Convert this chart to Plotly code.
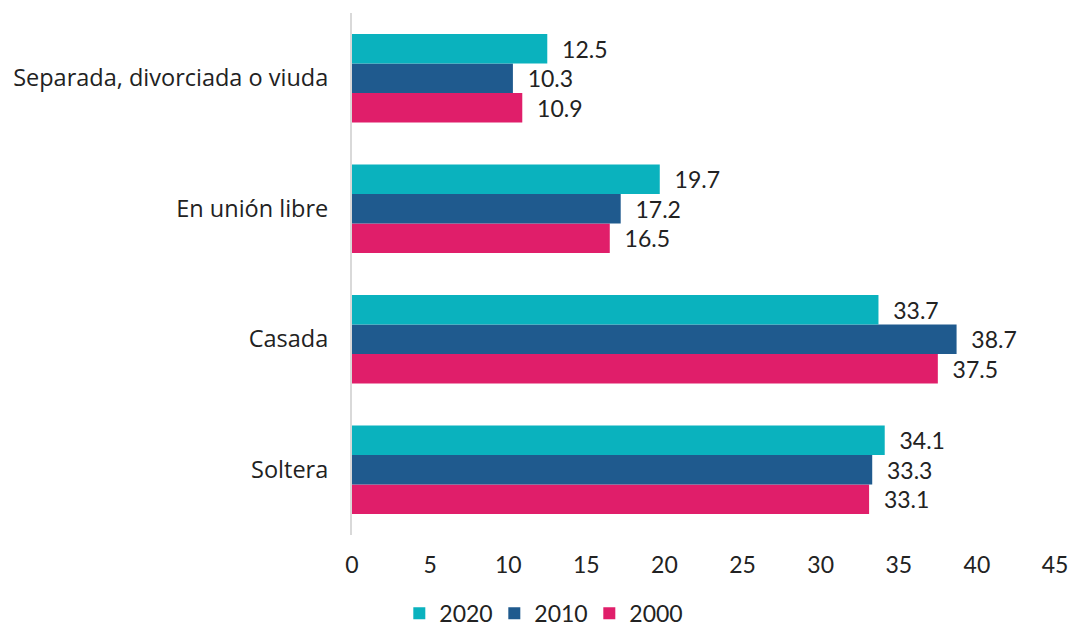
import plotly.graph_objects as go

categorias = ["Soltera", "Casada", "En unión libre", "Separada, divorciada o viuda"]
v2000 = [33.1, 37.5, 16.5, 10.9]
v2010 = [33.3, 38.7, 17.2, 10.3]
v2020 = [34.1, 33.7, 19.7, 12.5]
ticks_x = [0, 5, 10, 15, 20, 25, 30, 35, 40, 45]

series = [
    ("2000", v2000, "#E01E6A"),
    ("2010", v2010, "#1F5A8E"),
    ("2020", v2020, "#0AB2BE"),
]

fig = go.Figure()
for nombre, valores, color in series:
    fig.add_trace(go.Bar(
        y=categorias, x=valores, name=nombre, orientation="h",
        marker=dict(color=color, line=dict(width=0)),
        text=[f"{v:.1f}" for v in valores], texttemplate="  %{text}",
        textposition="outside", cliponaxis=False,
        textfont=dict(size=23, color="#222222"),
    ))

fig.update_layout(
    barmode="group", bargap=0.32, bargroupgap=0,
    width=1071, height=627,
    margin=dict(l=352, r=16, t=13, b=92),
    plot_bgcolor="white", paper_bgcolor="white",
    font=dict(family="Lato, sans-serif", size=23, color="#222222"),
    legend=dict(orientation="h", traceorder="reversed", x=0.27, xanchor="center",
                yref="container", y=0.022, yanchor="middle", font=dict(size=23),
                itemsizing="constant", entrywidth=50),
    showlegend=True,
)
fig.update_xaxes(range=[0, 45], tickvals=ticks_x, showgrid=False, zeroline=False,
                 showline=False, ticks="", ticklabelstandoff=14, automargin=False,
                 tickfont=dict(size=23))
fig.update_yaxes(showline=True, linecolor="#D9D9D9", linewidth=2, ticks="",
                 ticklabelstandoff=17, automargin=False,
                 tickfont=dict(family="Open Sans, sans-serif", size=23.5))

# quitar el margen del body para que el gráfico ocupe toda la ventana
fig.write_html("out.html", config={"displayModeBar": False},
               post_script="document.body.style.margin='0';")
